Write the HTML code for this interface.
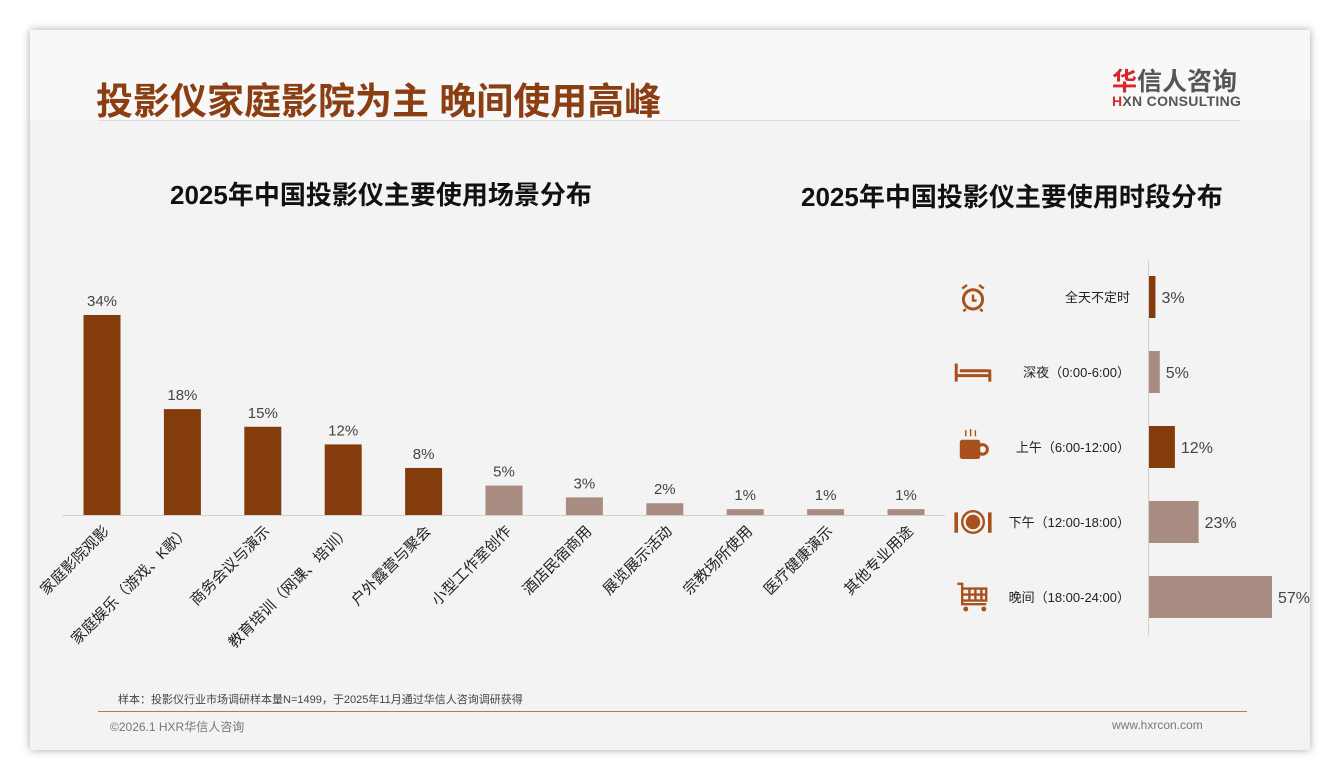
<!DOCTYPE html>
<html><head><meta charset="utf-8">
<style>
body{margin:0;width:1340px;height:780px;background:#fff;font-family:"Liberation Sans","Noto Sans CJK SC",sans-serif;overflow:hidden;position:relative}
.card{position:absolute;left:30px;top:30px;width:1280px;height:720px;background:#f3f3f3;box-shadow:0 0 8px rgba(0,0,0,.35)}
.hdr{position:absolute;left:0;top:0;width:1280px;height:90px;background:#f8f8f8}
.t{position:absolute;white-space:nowrap}
</style></head><body>
<div class="card">
 <div class="hdr"></div>
 <div class="t" style="left:66px;top:41px;font-size:37px;font-weight:bold;color:#8b3e12">投影仪家庭影院为主 晚间使用高峰</div>
 <div class="t" style="left:1082px;top:32px;font-size:25px;font-weight:bold;color:#555"><span style="color:#d8262b">华</span>信人咨询</div>
 <div class="t" style="left:1082px;top:63px;font-size:14px;font-weight:bold;color:#555;letter-spacing:.3px"><span style="color:#d8262b">H</span>XN CONSULTING</div>
 <div style="position:absolute;left:68px;top:90px;width:1142px;height:1px;background:#ddd"></div>
 <div class="t" style="left:140px;top:145px;font-size:26px;font-weight:bold;color:#111">2025年中国投影仪主要使用场景分布</div>
 <div class="t" style="left:771px;top:147px;font-size:26px;font-weight:bold;color:#111">2025年中国投影仪主要使用时段分布</div>
 <div class="t" style="left:88px;top:661px;font-size:11px;color:#444">样本：投影仪行业市场调研样本量N=1499，于2025年11月通过华信人咨询调研获得</div>
 <div style="position:absolute;left:68px;top:681px;width:1149px;height:1px;background:#b07a55"></div>
 <div class="t" style="left:80px;top:688px;font-size:12px;color:#777">©2026.1 HXR华信人咨询</div>
 <div class="t" style="left:1082px;top:688px;font-size:12px;color:#777">www.hxrcon.com</div>
</div>
<svg id="chart" width="1340" height="780" style="position:absolute;left:0;top:0"></svg>
<script>
const catLabels=["家庭影院观影","家庭娱乐（游戏、K歌）","商务会议与演示","教育培训（网课、培训）","户外露营与聚会","小型工作室创作","酒店民宿商用","展览展示活动","宗教场所使用","医疗健康演示","其他专业用途"];
const catValues=[34,18,15,12,8,5,3,2,1,1,1];
const timeLabels=["全天不定时","深夜（0:00-6:00）","上午（6:00-12:00）","下午（12:00-18:00）","晚间（18:00-24:00）"];
const timeValues=[3,5,12,23,57];
const NS="http://www.w3.org/2000/svg";
const svg=document.getElementById('chart');
function mk(t,a,txt){const e=document.createElementNS(NS,t);for(const k in a)e.setAttribute(k,a[k]);if(txt!=null)e.textContent=txt;svg.appendChild(e);return e;}
const DARK="#843c0c",LIGHT="#a88c82";
const base=515,x0=62,step=80.4;
const yS=v=>v*200/34;
const xC=i=>102+i*step;
let ax=mk('line',{x1:x0,y1:base+0.5,x2:945,y2:base+0.5,stroke:'#d0d0d0'});

catValues.forEach((v,i)=>{
 const h=yS(v);
 const r=mk('rect',{x:xC(i)-18.5,y:base-h,width:37,height:h,fill:i<5?DARK:LIGHT});
 
 
 const t=mk('text',{x:xC(i),y:base-h-9,'text-anchor':'middle','font-size':15,fill:'#444'},v+'%');
 
 
 const lx=xC(i)+8,ly=base+17;
 const l=mk('text',{x:lx,y:ly,'text-anchor':'end','font-size':15,fill:'#222',transform:`rotate(-45 ${lx} ${ly})`},catLabels[i]);
 
 
});
const ax2=1148.5,xS=v=>v*123/57;
const yC=i=>297+i*75;
let a2=mk('line',{x1:ax2,y1:260,x2:ax2,y2:635,stroke:'#d0d0d0'});

timeValues.forEach((v,i)=>{
 const w=xS(v);
 const r=mk('rect',{x:1149,y:yC(i)-21,width:w,height:42,fill:(i==0||i==2)?DARK:LIGHT});
 
 
 const t=mk('text',{x:1149+w+6,y:yC(i)+6,'font-size':16,fill:'#444'},v+'%');
 
 
 const l=mk('text',{x:1130,y:yC(i)+5,'text-anchor':'end','font-size':13,fill:'#222'},timeLabels[i]);
 
 
});
const IC="#a8511c";
function g(i){const e=document.createElementNS(NS,'g');e.setAttribute('transform',`translate(973 ${yC(i)}) scale(1.2)`);svg.appendChild(e);return e;}
function add(p,t,a){const e=document.createElementNS(NS,t);for(const k in a)e.setAttribute(k,a[k]);p.appendChild(e);}
let gi=g(0);
add(gi,'circle',{cx:0,cy:2,r:8,fill:'none',stroke:IC,'stroke-width':2.5});
add(gi,'path',{d:'M0 -2V3H3M-9 -7L-5 -10M9 -7L5 -10M-6 10L-8 12M6 10L8 12',stroke:IC,'stroke-width':2,fill:'none'});
gi=g(1);
add(gi,'path',{d:'M-14 -7V8M14 -2V8M-14 3H14M-11 -1H14',stroke:IC,'stroke-width':2.5,fill:'none'});
gi=g(2);
add(gi,'rect',{x:-11,y:-6,width:17,height:16,rx:2,fill:IC});
add(gi,'circle',{cx:8,cy:2,r:4,fill:'none',stroke:IC,'stroke-width':2.5});
add(gi,'path',{d:'M-6 -9V-14M-2 -9V-15M2 -9V-14',stroke:IC,'stroke-width':1.2});
gi=g(3);
add(gi,'circle',{cx:0,cy:0,r:9,fill:'none',stroke:IC,'stroke-width':2});
add(gi,'circle',{cx:0,cy:0,r:6,fill:IC});
add(gi,'path',{d:'M-14 -8V9M14 -8V9',stroke:IC,'stroke-width':3});
gi=g(4);
add(gi,'path',{d:'M-13 -11H-9V6H11M-8 -7H11V3H-8M-3 -7V3M2 -7V3M7 -7V3M-8 -2H11',stroke:IC,'stroke-width':2,fill:'none'});
add(gi,'circle',{cx:-6,cy:10,r:2,fill:IC});add(gi,'circle',{cx:9,cy:10,r:2,fill:IC});
</script>
</body></html>
